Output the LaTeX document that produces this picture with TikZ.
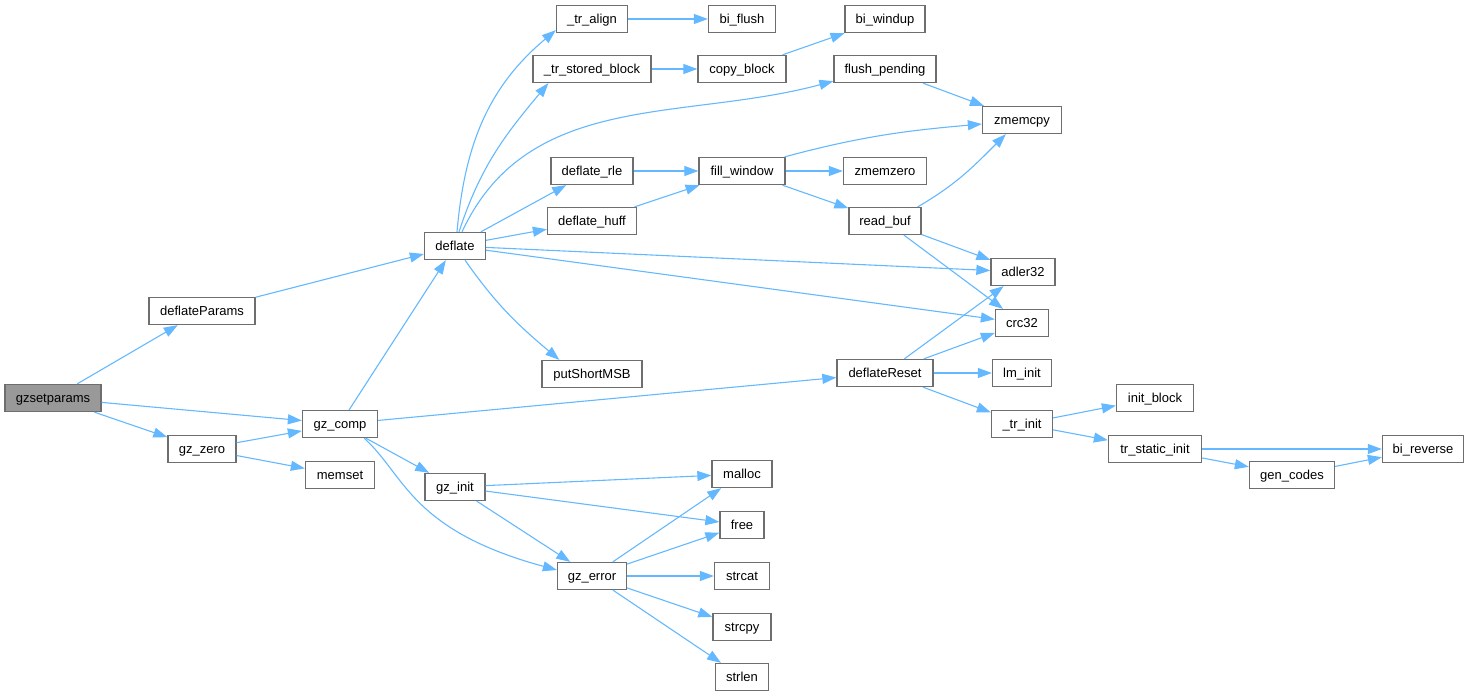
\documentclass[tikz,border=0pt]{standalone}
\usepackage{fontspec}
\setmainfont{Liberation Sans}
\usetikzlibrary{arrows.meta}
\definecolor{edgeblue}{RGB}{99,184,255}
\definecolor{boxgray}{RGB}{110,110,110}
\definecolor{hifill}{RGB}{153,153,153}
\tikzset{
  fn/.style={draw=boxgray, line width=1.3pt, fill=white, minimum height=27pt,
    inner sep=0pt, text height=10pt, text depth=1.5pt,
    font=\fontsize{13}{15}\selectfont},
  fnhi/.style={fn, fill=hifill},
  call/.style={edgeblue, line width=1.1pt, -{Triangle[length=14pt,width=10pt]}},
}
\begin{document}
\begin{tikzpicture}[x=1pt,y=-1pt]
    \useasboundingbox (0,0) rectangle (1469,696);

    % functions
    \node[fnhi, minimum width=96pt] (gzsetparams) at (53,398) {gzsetparams};
    \node[fn, minimum width=106pt] (deflateparams) at (202,311) {deflateParams};
    \node[fn, minimum width=68pt] (gzzero) at (202,449) {gz\_zero};
    \node[fn, minimum width=75pt] (gzcomp) at (340,424) {gz\_comp};
    \node[fn, minimum width=69pt] (memset) at (340,475) {memset};
    \node[fn, minimum width=61pt] (deflate) at (455,246) {deflate};
    \node[fn, minimum width=60pt] (gzinit) at (455,487) {gz\_init};
    \node[fn, minimum width=71pt] (tralign) at (592,19) {\_tr\_align};
    \node[fn, minimum width=118pt] (trstored) at (592,69) {\_tr\_stored\_block};
    \node[fn, minimum width=82pt] (deflaterle) at (592,171) {deflate\_rle};
    \node[fn, minimum width=89pt] (deflatehuff) at (592,221) {deflate\_huff};
    \node[fn, minimum width=100pt] (putshort) at (592,374) {putShortMSB};
    \node[fn, minimum width=69pt] (gzerror) at (592,576) {gz\_error};
    \node[fn, minimum width=67pt] (biflush) at (742,19) {bi\_flush};
    \node[fn, minimum width=88pt] (copyblock) at (742,69) {copy\_block};
    \node[fn, minimum width=86pt] (fillwindow) at (742,171) {fill\_window};
    \node[fn, minimum width=60pt] (malloc) at (742,474) {malloc};
    \node[fn, minimum width=44pt] (free) at (742,525) {free};
    \node[fn, minimum width=55pt] (strcat) at (742,576) {strcat};
    \node[fn, minimum width=58pt] (strcpy) at (742,627) {strcpy};
    \node[fn, minimum width=53pt] (strlen) at (742,677) {strlen};
    \node[fn, minimum width=80pt] (biwindup) at (885,19) {bi\_windup};
    \node[fn, minimum width=102pt] (flushpending) at (885,69) {flush\_pending};
    \node[fn, minimum width=83pt] (zmemzero) at (885,171) {zmemzero};
    \node[fn, minimum width=72pt] (readbuf) at (885,221) {read\_buf};
    \node[fn, minimum width=96pt] (deflatereset) at (885,373) {deflateReset};
    \node[fn, minimum width=79pt] (zmemcpy) at (1022,120) {zmemcpy};
    \node[fn, minimum width=64pt] (adler) at (1023,272) {adler32};
    \node[fn, minimum width=53pt] (crc) at (1022,323) {crc32};
    \node[fn, minimum width=59pt] (lminit) at (1022,373) {lm\_init};
    \node[fn, minimum width=61pt] (trinit) at (1022,424) {\_tr\_init};
    \node[fn, minimum width=77pt] (initblock) at (1155,398) {init\_block};
    \node[fn, minimum width=93pt] (trstatic) at (1155,449) {tr\_static\_init};
    \node[fn, minimum width=85pt] (gencodes) at (1292,475) {gen\_codes};
    \node[fn, minimum width=81pt] (bireverse) at (1423,449) {bi\_reverse};

    % calls from gzsetparams
    \draw[call] (gzsetparams) -- (deflateparams);
    \draw[call] (gzsetparams) -- (gzcomp);
    \draw[call] (gzsetparams) -- (gzzero);
    \draw[call] (deflateparams) -- (deflate);
    \draw[call] (gzzero) -- (gzcomp);
    \draw[call] (gzzero) -- (memset);

    % gz_comp
    \draw[call] (gzcomp) -- (deflate);
    \draw[call] (gzcomp) -- (deflatereset);
    \draw[call] (gzcomp) -- (gzinit);
    \draw[call] ([xshift=-14pt]gzcomp.south east) .. controls (405,475) and (410,530) .. ([yshift=6pt]gzerror.west);

    % deflate
    \draw[call] ([xshift=2pt]deflate.north) to[out=85,in=-140] ([yshift=3pt]tralign.south west);
    \draw[call] ([xshift=4pt]deflate.north) to[out=72,in=-130] ([xshift=16pt]trstored.south west);
    \draw[call] ([xshift=7pt]deflate.north) to[out=65,in=195] ([yshift=2pt]flushpending.south west);
    \draw[call] (deflate) -- (deflaterle);
    \draw[call] (deflate) -- (deflatehuff);
    \draw[call] (deflate) -- (adler);
    \draw[call] (deflate) -- (crc);
    \draw[call] ([xshift=10pt]deflate.south) to[out=-55,in=140] ([xshift=18pt]putshort.north west);

    % deflate helpers
    \draw[call] (tralign) -- (biflush);
    \draw[call] (trstored) -- (copyblock);
    \draw[call] (copyblock) -- (biwindup);
    \draw[call] (flushpending) -- (zmemcpy);
    \draw[call] (deflaterle) -- (fillwindow);
    \draw[call] (deflatehuff) -- (fillwindow);
    \draw[call] ([xshift=-1pt]fillwindow.north east) to[out=15,in=185] ([yshift=-4pt]zmemcpy.west);
    \draw[call] (fillwindow) -- (zmemzero);
    \draw[call] (fillwindow) -- (readbuf);
    \draw[call] ([xshift=-4pt]readbuf.north east) to[out=30,in=-135] ([xshift=24pt]zmemcpy.south west);
    \draw[call] (readbuf) -- (adler);
    \draw[call] (readbuf) -- (crc);

    % gz_init and gz_error
    \draw[call] (gzinit) -- (malloc);
    \draw[call] (gzinit) -- (free);
    \draw[call] (gzinit) -- (gzerror);
    \draw[call] (gzerror) -- (malloc);
    \draw[call] (gzerror) -- (free);
    \draw[call] (gzerror) -- (strcat);
    \draw[call] (gzerror) -- (strcpy);
    \draw[call] (gzerror) -- (strlen);

    % deflateReset
    \draw[call] (deflatereset) -- (adler);
    \draw[call] (deflatereset) -- (crc);
    \draw[call] (deflatereset) -- (lminit);
    \draw[call] (deflatereset) -- (trinit);
    \draw[call] (trinit) -- (initblock);
    \draw[call] (trinit) -- (trstatic);
    \draw[call] (trstatic) -- (bireverse);
    \draw[call] (trstatic) -- (gencodes);
    \draw[call] (gencodes) -- (bireverse);
\end{tikzpicture}
\end{document}
